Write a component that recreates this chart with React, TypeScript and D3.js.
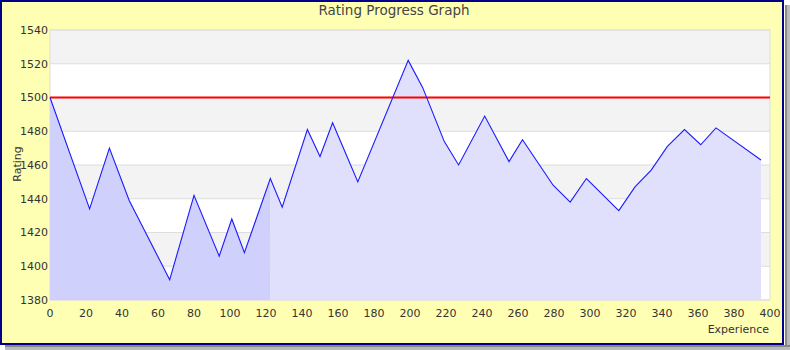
import React from "react";
import * as d3 from "d3";

// experience (x) and rating (y)
const experience = [0, 22, 33, 44, 66.5, 80, 94, 101, 108, 122.4, 129, 143, 150, 157, 165, 171, 199, 207, 219, 227, 241.5, 255, 262.5, 279.5, 289, 298, 316, 325, 334, 343, 352.5, 361.5, 370, 395];
const rating = [1500, 1434, 1470, 1439, 1392, 1442, 1406, 1428, 1408, 1452, 1435, 1481, 1465, 1485, 1465, 1450, 1522, 1506, 1474, 1460, 1489, 1462, 1475, 1448, 1438, 1452, 1433, 1447, 1457, 1471, 1481, 1472, 1482, 1463];
const xTicks = [0, 20, 40, 60, 80, 100, 120, 140, 160, 180, 200, 220, 240, 260, 280, 300, 320, 340, 360, 380, 400];
const yTicks = [1380, 1400, 1420, 1440, 1460, 1480, 1500, 1520, 1540];
const baseRating = 1500;
const splitIndex = 9; // darker shading up to this point

const W = 790, H = 350;
const FONT = "DejaVu Sans, sans-serif";

const App = () => {
    const x = d3.scaleLinear().domain([0, 400]).range([50, 770]);
    const y = d3.scaleLinear().domain([1380, 1540]).range([300, 30]);
    const pts: [number, number][] = experience.map((e, i) => [e, rating[i]]);

    const area = d3.area<[number, number]>()
        .x(d => x(d[0]))
        .y0(y(1380))
        .y1(d => y(d[1]));
    const line = d3.line<[number, number]>()
        .x(d => x(d[0]))
        .y(d => y(d[1]));

    return (
        <svg width={W} height={H} style={{ position: "absolute", left: 0, top: 0 }} fontFamily={FONT}>
            {/* shadow */}
            <rect x={785} y={5} width={2} height={345} fill="#888" />
            <rect x={787} y={5} width={3} height={345} fill="#bbb" />
            <rect x={5} y={345} width={785} height={2} fill="#888" />
            <rect x={5} y={347} width={785} height={3} fill="#bbb" />
            <rect x={1} y={1} width={782} height={343} fill="#ffffb4" stroke="#00008b" strokeWidth={2} />

            <text x={394} y={15} textAnchor="middle" fontSize={13.5} fill="#444">Rating Progress Graph</text>

            {/* bands */}
            {yTicks.slice(0, -1).map((t, i) => (
                <rect key={t} x={x(0)} y={y(t + 20)} width={x(400) - x(0)} height={y(t) - y(t + 20)}
                    fill={i % 2 === 0 ? "#ffffff" : "#f3f3f3"} />
            ))}
            {yTicks.map(t => (
                <line key={t} x1={x(0)} x2={x(400)} y1={y(t)} y2={y(t)} stroke="#dddddd" strokeWidth={1} />
            ))}
            <rect x={x(0)} y={y(1540)} width={x(400) - x(0)} height={y(1380) - y(1540)} fill="none" stroke="#dddddd" />

            <path d={area(pts.slice(splitIndex)) || ""} fill="#e0e0fd" />
            <path d={area(pts.slice(0, splitIndex + 1)) || ""} fill="#cfd0fc" />
            <line x1={x(0)} x2={x(400)} y1={y(baseRating)} y2={y(baseRating)} stroke="#ff0000" strokeWidth={2} />
            <path d={line(pts) || ""} fill="none" stroke="#1a1aff" strokeWidth={1.1} />

            {yTicks.map(t => (
                <text key={t} x={48} y={y(t)} dy="0.35em" textAnchor="end" fontSize={11} fill="#333">{t}</text>
            ))}
            {xTicks.map(t => (
                <text key={t} x={x(t)} y={317} textAnchor="middle" fontSize={11} fill="#333">{t}</text>
            ))}
            <text transform="translate(21,164) rotate(-90)" textAnchor="middle" fontSize={11} fill="#333">Rating</text>
            <text x={769} y={333} textAnchor="end" fontSize={11} fill="#333">Experience</text>
        </svg>
    );
};

export default App;
